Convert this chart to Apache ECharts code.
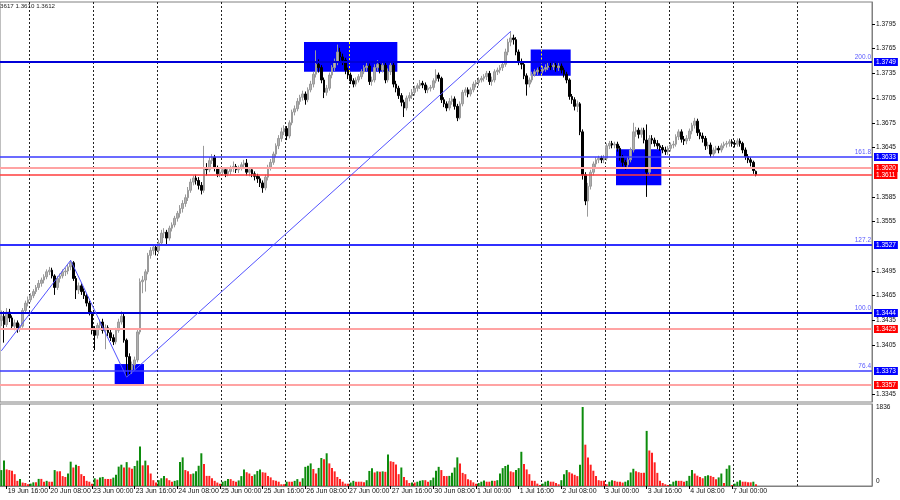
<!DOCTYPE html>
<html><head><meta charset="utf-8">
<script src="https://cdn.jsdelivr.net/npm/echarts@6/dist/echarts.min.js"></script>
<style>html,body{margin:0;padding:0;background:#fff}#c{width:900px;height:500px}</style>
</head><body><div id="c"></div>
<script>
// ---------- DATA (H1 candles: [open, close, low, high]) ----------
const dayNames = ['19 Jun','20 Jun','23 Jun','24 Jun','25 Jun','26 Jun','27 Jun','30 Jun','1 Jul','2 Jul','3 Jul','4 Jul','7 Jul'];
const firstHour = [14,0,0,0,0,0,0,0,0,0,0,0,0];

const jun19 = [[1.3435,1.3440,1.3428,1.3447],[1.3440,1.3430,1.3408,1.3446],[1.3430,1.3445,1.3427,1.3450],[1.3445,1.3438,1.3433,1.3449],[1.3438,1.3428,1.3424,1.3441],[1.3428,1.3432,1.3423,1.3436],[1.3432,1.3424,1.3420,1.3435],[1.3424,1.3428,1.3421,1.3431],[1.3428,1.3447,1.3426,1.3450],[1.3447,1.3456,1.3444,1.3459]];
const jun20 = [[1.3456,1.3460,1.3452,1.3464],[1.3460,1.3465,1.3457,1.3468],[1.3465,1.3470,1.3462,1.3473],[1.3470,1.3475,1.3467,1.3478],[1.3475,1.3480,1.3472,1.3484],[1.3480,1.3484,1.3476,1.3487],[1.3484,1.3488,1.3480,1.3491],[1.3488,1.3494,1.3485,1.3497],[1.3494,1.3496,1.3490,1.3500],[1.3496,1.3489,1.3486,1.3499],[1.3489,1.3475,1.3466,1.3491],[1.3475,1.3486,1.3472,1.3489],[1.3486,1.3489,1.3481,1.3492],[1.3489,1.3494,1.3486,1.3497],[1.3494,1.3495,1.3489,1.3499],[1.3495,1.3500,1.3491,1.3503],[1.3500,1.3505,1.3496,1.3508],[1.3505,1.3486,1.3483,1.3507],[1.3486,1.3472,1.3461,1.3489],[1.3472,1.3477,1.3467,1.3481],[1.3477,1.3470,1.3466,1.3480],[1.3470,1.3465,1.3461,1.3474],[1.3465,1.3456,1.3452,1.3468],[1.3456,1.3444,1.3441,1.3459]];
const jun23 = [[1.3444,1.3423,1.3418,1.3446],[1.3423,1.3417,1.3399,1.3428],[1.3417,1.3429,1.3413,1.3432],[1.3429,1.3433,1.3424,1.3436],[1.3433,1.3423,1.3419,1.3437],[1.3423,1.3426,1.3400,1.3430],[1.3426,1.3420,1.3416,1.3429],[1.3420,1.3414,1.3410,1.3424],[1.3414,1.3409,1.3405,1.3418],[1.3409,1.3423,1.3406,1.3426],[1.3423,1.3433,1.3420,1.3437],[1.3433,1.3440,1.3430,1.3446],[1.3440,1.3411,1.3408,1.3443],[1.3411,1.3391,1.3366,1.3413],[1.3391,1.3375,1.3369,1.3395],[1.3375,1.3381,1.3370,1.3385],[1.3381,1.3387,1.3375,1.3391],[1.3387,1.3421,1.3384,1.3424],[1.3421,1.3482,1.3418,1.3486],[1.3482,1.3484,1.3468,1.3489],[1.3484,1.3494,1.3470,1.3497],[1.3494,1.3514,1.3491,1.3517],[1.3514,1.3520,1.3510,1.3524],[1.3520,1.3524,1.3515,1.3527]];
const jun24 = [[1.3524,1.3520,1.3514,1.3527],[1.3520,1.3529,1.3516,1.3533],[1.3529,1.3541,1.3526,1.3545],[1.3541,1.3542,1.3535,1.3547],[1.3542,1.3535,1.3527,1.3545],[1.3535,1.3547,1.3532,1.3550],[1.3547,1.3551,1.3543,1.3554],[1.3551,1.3559,1.3548,1.3562],[1.3559,1.3565,1.3555,1.3568],[1.3565,1.3571,1.3560,1.3575],[1.3571,1.3577,1.3566,1.3581],[1.3577,1.3584,1.3573,1.3588],[1.3584,1.3593,1.3580,1.3597],[1.3593,1.3603,1.3590,1.3607],[1.3603,1.3608,1.3599,1.3611],[1.3608,1.3605,1.3600,1.3612],[1.3605,1.3599,1.3594,1.3609],[1.3599,1.3593,1.3588,1.3603],[1.3593,1.3620,1.3590,1.3647],[1.3620,1.3618,1.3611,1.3626],[1.3618,1.3629,1.3615,1.3633],[1.3629,1.3633,1.3625,1.3637],[1.3633,1.3620,1.3616,1.3636],[1.3620,1.3613,1.3609,1.3623]];
const jun25 = [[1.3613,1.3615,1.3609,1.3619],[1.3615,1.3618,1.3611,1.3621],[1.3618,1.3613,1.3609,1.3621],[1.3613,1.3616,1.3610,1.3619],[1.3616,1.3620,1.3612,1.3623],[1.3620,1.3622,1.3615,1.3628],[1.3622,1.3618,1.3614,1.3625],[1.3618,1.3620,1.3614,1.3623],[1.3620,1.3624,1.3617,1.3627],[1.3624,1.3626,1.3620,1.3630],[1.3626,1.3615,1.3611,1.3631],[1.3615,1.3618,1.3610,1.3621],[1.3618,1.3613,1.3609,1.3620],[1.3613,1.3610,1.3605,1.3616],[1.3610,1.3607,1.3602,1.3613],[1.3607,1.3602,1.3597,1.3610],[1.3602,1.3596,1.3590,1.3605],[1.3596,1.3609,1.3593,1.3612],[1.3609,1.3621,1.3605,1.3624],[1.3621,1.3627,1.3617,1.3631],[1.3627,1.3637,1.3624,1.3640],[1.3637,1.3647,1.3633,1.3650],[1.3647,1.3656,1.3643,1.3660],[1.3656,1.3664,1.3652,1.3669]];
const jun26 = [[1.3664,1.3668,1.3660,1.3672],[1.3668,1.3659,1.3654,1.3671],[1.3659,1.3675,1.3656,1.3678],[1.3675,1.3688,1.3672,1.3691],[1.3688,1.3692,1.3684,1.3696],[1.3692,1.3701,1.3689,1.3705],[1.3701,1.3706,1.3697,1.3709],[1.3706,1.3710,1.3702,1.3714],[1.3710,1.3703,1.3697,1.3713],[1.3703,1.3715,1.3700,1.3718],[1.3715,1.3722,1.3712,1.3726],[1.3722,1.3734,1.3718,1.3737],[1.3734,1.3746,1.3730,1.3763],[1.3746,1.3742,1.3736,1.3752],[1.3742,1.3727,1.3723,1.3745],[1.3727,1.3712,1.3705,1.3730],[1.3712,1.3717,1.3708,1.3721],[1.3717,1.3733,1.3714,1.3736],[1.3733,1.3742,1.3729,1.3745],[1.3742,1.3749,1.3738,1.3753],[1.3749,1.3761,1.3745,1.3770],[1.3761,1.3755,1.3750,1.3766],[1.3755,1.3751,1.3745,1.3759],[1.3751,1.3739,1.3734,1.3754]];
const jun27 = [[1.3739,1.3733,1.3728,1.3742],[1.3733,1.3726,1.3722,1.3736],[1.3726,1.3722,1.3718,1.3729],[1.3722,1.3727,1.3719,1.3730],[1.3727,1.3731,1.3724,1.3734],[1.3731,1.3737,1.3728,1.3740],[1.3737,1.3742,1.3734,1.3745],[1.3742,1.3744,1.3738,1.3749],[1.3744,1.3725,1.3721,1.3747],[1.3725,1.3727,1.3720,1.3731],[1.3727,1.3742,1.3724,1.3746],[1.3742,1.3746,1.3738,1.3751],[1.3746,1.3739,1.3735,1.3749],[1.3739,1.3745,1.3736,1.3750],[1.3745,1.3727,1.3723,1.3748],[1.3727,1.3737,1.3724,1.3741],[1.3737,1.3745,1.3733,1.3750],[1.3745,1.3722,1.3718,1.3748],[1.3722,1.3717,1.3712,1.3726],[1.3717,1.3708,1.3704,1.3720],[1.3708,1.3700,1.3695,1.3711],[1.3700,1.3693,1.3682,1.3703],[1.3693,1.3705,1.3690,1.3708],[1.3705,1.3708,1.3701,1.3712]];
const jun30 = [[1.3708,1.3712,1.3704,1.3716],[1.3712,1.3717,1.3708,1.3720],[1.3717,1.3720,1.3713,1.3723],[1.3720,1.3723,1.3716,1.3727],[1.3723,1.3721,1.3717,1.3726],[1.3721,1.3715,1.3711,1.3724],[1.3715,1.3717,1.3711,1.3720],[1.3717,1.3718,1.3713,1.3721],[1.3718,1.3726,1.3715,1.3729],[1.3726,1.3733,1.3723,1.3740],[1.3733,1.3729,1.3725,1.3736],[1.3729,1.3703,1.3699,1.3731],[1.3703,1.3698,1.3694,1.3706],[1.3698,1.3693,1.3689,1.3701],[1.3693,1.3701,1.3690,1.3705],[1.3701,1.3704,1.3697,1.3708],[1.3704,1.3695,1.3691,1.3707],[1.3695,1.3681,1.3677,1.3698],[1.3681,1.3698,1.3679,1.3701],[1.3698,1.3712,1.3695,1.3715],[1.3712,1.3715,1.3708,1.3718],[1.3715,1.3710,1.3706,1.3718],[1.3710,1.3715,1.3707,1.3718],[1.3715,1.3722,1.3712,1.3725]];
const jul01 = [[1.3722,1.3724,1.3718,1.3727],[1.3724,1.3727,1.3720,1.3730],[1.3727,1.3729,1.3724,1.3732],[1.3729,1.3731,1.3725,1.3734],[1.3731,1.3735,1.3727,1.3738],[1.3735,1.3725,1.3721,1.3738],[1.3725,1.3727,1.3720,1.3731],[1.3727,1.3737,1.3724,1.3740],[1.3737,1.3739,1.3733,1.3742],[1.3739,1.3742,1.3735,1.3745],[1.3742,1.3746,1.3738,1.3750],[1.3746,1.3761,1.3743,1.3765],[1.3761,1.3773,1.3757,1.3777],[1.3773,1.3778,1.3768,1.3786],[1.3778,1.3776,1.3770,1.3782],[1.3776,1.3761,1.3757,1.3779],[1.3761,1.3749,1.3745,1.3764],[1.3749,1.3746,1.3740,1.3753],[1.3746,1.3732,1.3728,1.3749],[1.3732,1.3722,1.3708,1.3735],[1.3722,1.3727,1.3718,1.3730],[1.3727,1.3734,1.3724,1.3737],[1.3734,1.3737,1.3731,1.3740],[1.3737,1.3739,1.3733,1.3742]];
const jul02 = [[1.3739,1.3738,1.3735,1.3743],[1.3738,1.3740,1.3735,1.3744],[1.3740,1.3742,1.3737,1.3746],[1.3742,1.3744,1.3739,1.3748],[1.3744,1.3743,1.3739,1.3748],[1.3743,1.3745,1.3739,1.3749],[1.3745,1.3742,1.3737,1.3750],[1.3742,1.3744,1.3738,1.3748],[1.3744,1.3739,1.3735,1.3747],[1.3739,1.3734,1.3730,1.3742],[1.3734,1.3727,1.3723,1.3737],[1.3727,1.3707,1.3703,1.3729],[1.3707,1.3703,1.3698,1.3710],[1.3703,1.3695,1.3690,1.3706],[1.3695,1.3698,1.3688,1.3702],[1.3698,1.3664,1.3660,1.3700],[1.3664,1.3612,1.3606,1.3667],[1.3612,1.3580,1.3575,1.3615],[1.3580,1.3598,1.3561,1.3602],[1.3598,1.3615,1.3594,1.3618],[1.3615,1.3625,1.3611,1.3628],[1.3625,1.3630,1.3621,1.3633],[1.3630,1.3632,1.3626,1.3635],[1.3632,1.3630,1.3626,1.3635]];
const jul03 = [[1.3630,1.3632,1.3626,1.3636],[1.3632,1.3647,1.3629,1.3650],[1.3647,1.3650,1.3643,1.3653],[1.3650,1.3648,1.3644,1.3653],[1.3648,1.3649,1.3644,1.3652],[1.3649,1.3644,1.3640,1.3652],[1.3644,1.3633,1.3629,1.3647],[1.3633,1.3627,1.3622,1.3636],[1.3627,1.3624,1.3618,1.3630],[1.3624,1.3630,1.3621,1.3633],[1.3630,1.3642,1.3627,1.3645],[1.3642,1.3664,1.3639,1.3675],[1.3664,1.3666,1.3658,1.3670],[1.3666,1.3661,1.3656,1.3669],[1.3661,1.3666,1.3657,1.3669],[1.3666,1.3654,1.3650,1.3669],[1.3654,1.3615,1.3585,1.3673],[1.3615,1.3656,1.3612,1.3660],[1.3656,1.3654,1.3649,1.3660],[1.3654,1.3650,1.3646,1.3657],[1.3650,1.3647,1.3643,1.3654],[1.3647,1.3645,1.3641,1.3650],[1.3645,1.3642,1.3638,1.3648],[1.3642,1.3640,1.3636,1.3646]];
const jul04 = [[1.3640,1.3644,1.3636,1.3647],[1.3644,1.3648,1.3640,1.3651],[1.3648,1.3649,1.3644,1.3653],[1.3649,1.3658,1.3646,1.3661],[1.3658,1.3664,1.3654,1.3667],[1.3664,1.3655,1.3651,1.3667],[1.3655,1.3653,1.3648,1.3659],[1.3653,1.3656,1.3649,1.3660],[1.3656,1.3665,1.3653,1.3668],[1.3665,1.3672,1.3661,1.3675],[1.3672,1.3677,1.3668,1.3681],[1.3677,1.3663,1.3659,1.3680],[1.3663,1.3659,1.3655,1.3667],[1.3659,1.3656,1.3651,1.3663],[1.3656,1.3647,1.3642,1.3659],[1.3647,1.3648,1.3643,1.3652],[1.3648,1.3637,1.3633,1.3651],[1.3637,1.3642,1.3634,1.3645],[1.3642,1.3644,1.3638,1.3647],[1.3644,1.3642,1.3638,1.3647],[1.3642,1.3647,1.3639,1.3650],[1.3647,1.3649,1.3644,1.3652],[1.3649,1.3650,1.3645,1.3653],[1.3650,1.3652,1.3646,1.3655]];
const jul07 = [[1.3652,1.3650,1.3646,1.3655],[1.3650,1.3649,1.3645,1.3654],[1.3649,1.3653,1.3646,1.3656],[1.3653,1.3650,1.3646,1.3656],[1.3650,1.3642,1.3638,1.3652],[1.3642,1.3634,1.3630,1.3645],[1.3634,1.3630,1.3626,1.3637],[1.3630,1.3627,1.3622,1.3633],[1.3627,1.3617,1.3613,1.3629],[1.3616,1.3612,1.3610,1.3617]];

// tick volumes per hour
const vol19 = [370,590,385,370,355,275,120,165,80,70];
const vol20 = [40,55,85,85,165,165,100,120,100,100,370,340,340,230,210,290,565,430,495,465,275,230,120,100];
const vol23 = [55,180,150,195,210,165,165,165,195,260,450,495,430,555,430,400,465,590,920,480,590,480,290,135];
const vol24 = [80,135,180,235,180,135,100,120,135,555,665,370,340,275,290,340,470,760,510,235,235,180,120,80];
const vol25 = [55,100,120,160,160,120,100,130,230,385,320,290,230,270,350,385,320,310,235,200,135,120,100,40];
const vol26 = [40,100,100,100,120,160,100,180,445,470,525,395,290,420,650,620,760,525,420,340,210,165,100,55];
const vol27 = [55,80,120,100,100,100,85,135,350,415,315,340,330,340,330,730,575,560,500,275,430,210,135,70];
const vol30 = [80,80,100,120,135,135,100,135,195,355,445,370,230,230,235,305,430,665,525,305,275,155,135,85];
const vol01 = [55,70,100,130,100,100,120,120,135,290,415,465,495,340,320,370,415,795,510,385,275,120,120,55];
const vol02 = [25,55,100,120,100,100,70,40,135,275,370,320,290,260,230,495,1836,960,665,495,355,230,135,120];
const vol03 = [120,40,100,135,120,100,100,80,100,135,315,400,340,320,305,305,1280,825,775,550,305,120,70,40];
const vol04 = [25,40,100,120,120,120,100,120,235,370,290,240,210,180,230,250,235,210,155,200,290,70,400,480];
const vol07 = [25,55,100,135,100,100,85,85,100,40];

const candleDays = [jun19,jun20,jun23,jun24,jun25,jun26,jun27,jun30,jul01,jul02,jul03,jul04,jul07];
const volumeDays = [vol19,vol20,vol23,vol24,vol25,vol26,vol27,vol30,vol01,vol02,vol03,vol04,vol07];

// price-axis tick labels & volume scale labels
const priceTicks = [1.3345,1.3405,1.3435,1.3465,1.3495,1.3555,1.3585,1.3645,1.3675,1.3705,1.3735,1.3765,1.3795];
const volumeTicks = [0,1836];

// fibonacci levels (blue) and horizontal levels (red)
const fibPrices = [1.3749,1.3633,1.3527,1.3444,1.3373];
const fibNames  = ['200.0','161.8','127.2','100.0','76.4'];
const redPrices = [1.3620,1.3611,1.3425,1.3357];

// zigzag vertices [barIndex, price]
const zigzag = [[0,1.3398],[26,1.3508],[47,1.3366],[191,1.3786]];
// rectangles [firstBar, lastBar, topPrice, bottomPrice]
const boxes = [[114,148,1.3773,1.3737],[199,213,1.3764,1.3732],[231,247,1.3643,1.3599],[43,53,1.3382,1.3357]];

const headerText = '3617 1.3610 1.3612';

// ---------- BUILD ----------
const categories = [], candles = [], volumes = [];
dayNames.forEach((d, k) => {
  candleDays[k].forEach((c, j) => {
    const h = firstHour[k] + j;
    categories.push(d + ' ' + String(h).padStart(2, '0') + ':00');
    candles.push(c);
    volumes.push(volumeDays[k][j]);
  });
});
const shiftBars = 43;
for (let j = 0; j < shiftBars; j++) categories.push('_' + j);

const FONT = 'Liberation Sans, Arial, sans-serif';
const GRID_FIRST = 11, GRID_STEP = 24, GRID_LAST = 299;
const gridLineFn = (idx) => idx >= GRID_FIRST && (idx - GRID_FIRST) % GRID_STEP === 0 && idx <= GRID_LAST;
const labelFn = (idx) => idx >= 2 && (idx - 2) % 16 === 0 && idx <= 274;
const splitStyle = { show: true, interval: gridLineFn, lineStyle: { color: '#222', width: 1, type: [2, 2] } };

// level rows: [price, kind(0 = fib, 1 = red), index within kind]
const levelRows = [];
fibPrices.forEach((p, k) => levelRows.push([p, 0, k]));
redPrices.forEach((p, k) => levelRows.push([p, 1, k]));
const fibStyle = [
  { color: '#0000d8', width: 2 }, { color: '#3a3aff', width: 1.3 }, { color: '#3030ff', width: 2 },
  { color: '#0000d8', width: 2 }, { color: '#3a3aff', width: 1.3 }
];
const redStyle = [
  { color: '#ffa3a3', width: 2 }, { color: '#ff3c3c', width: 1.5 }, { color: '#ffa3a3', width: 2 }, { color: '#ffa3a3', width: 2 }
];

const chart = echarts.init(document.getElementById('c'), null, { renderer: 'canvas' });
chart.setOption({
  animation: false,
  backgroundColor: '#fff',
  graphic: [{ type: 'text', left: 0, top: 3, style: { text: headerText, font: '6.2px ' + FONT, fill: '#222' } }],
  grid: [
    { left: -1, top: 2, width: 873, height: 400, show: true, borderColor: '#808080', borderWidth: 1, backgroundColor: 'transparent' },
    { left: -1, top: 404, width: 873, height: 82, show: true, borderColor: '#808080', borderWidth: 1, backgroundColor: 'transparent' }
  ],
  xAxis: [
    { type: 'category', gridIndex: 0, data: categories, boundaryGap: true,
      axisLine: { show: false }, axisTick: { show: false }, axisLabel: { show: false }, splitLine: splitStyle },
    { type: 'category', gridIndex: 1, data: categories, boundaryGap: true,
      axisLine: { show: true, lineStyle: { color: '#808080' } },
      axisTick: { show: true, interval: labelFn, alignWithLabel: true, length: 3, lineStyle: { color: '#000' } },
      axisLabel: { show: true, interval: labelFn, align: 'left', padding: [0, 0, 0, 1], margin: 2,
        fontSize: 7, fontFamily: FONT, color: '#111' },
      splitLine: splitStyle }
  ],
  yAxis: [
    { type: 'value', gridIndex: 0, position: 'right', min: 1.33359, max: 1.38217,
      axisLine: { show: true, lineStyle: { color: '#808080' } },
      axisTick: { show: true, customValues: priceTicks, length: 3, lineStyle: { color: '#000' } },
      axisLabel: { show: true, customValues: priceTicks, margin: 4, fontSize: 6.5, fontFamily: FONT, color: '#111',
        formatter: (v) => v.toFixed(4) },
      splitLine: { show: false } },
    { type: 'value', gridIndex: 1, position: 'right', min: 0, max: 1905,
      axisLine: { show: true, lineStyle: { color: '#808080' } },
      axisTick: { show: false },
      axisLabel: { show: true, customValues: volumeTicks, margin: 4, fontSize: 6.5, fontFamily: FONT, color: '#111',
        formatter: (v) => v === 0 ? '{z|0}' : '{t|' + v + '}',
        rich: { z: { padding: [0, 0, 10, 0], fontSize: 6.5, fontFamily: FONT, color: '#111' }, t: { fontSize: 6.5, fontFamily: FONT, color: '#111' } } },
      splitLine: { show: false } }
  ],
  series: [
    { type: 'custom', xAxisIndex: 0, yAxisIndex: 0, z: 1, silent: true,
      data: boxes, encode: { x: [0, 1], y: [2, 3] },
      renderItem: (params, api) => {
        const s = api.value(0), e = api.value(1), top = api.value(2), bot = api.value(3);
        const bw = api.size([1, 0])[0];
        const p1 = api.coord([s, top]), p2 = api.coord([e, bot]);
        const x0 = p1[0] - bw / 2, x1 = p2[0] + bw / 2;
        const children = [{ type: 'rect', shape: { x: x0, y: p1[1], width: x1 - x0, height: p2[1] - p1[1] }, style: { fill: '#0000ff' } }];
        for (let g = GRID_FIRST; g <= GRID_LAST; g += GRID_STEP) {
          const gx = Math.round(api.coord([g, top])[0] - bw / 2) + 0.5;
          if (gx > x0 && gx < x1) children.push({ type: 'line', shape: { x1: gx, y1: p1[1], x2: gx, y2: p2[1] },
            style: { stroke: '#ffff00', lineWidth: 1, lineDash: [2, 2] } });
        }
        return { type: 'group', children };
      } },
    { type: 'candlestick', xAxisIndex: 0, yAxisIndex: 0, z: 2, data: candles, barWidth: 2,
      itemStyle: { color: '#b0b0b0', color0: '#000', borderColor: '#9a9a9a', borderColor0: '#000', borderWidth: 1 },
      silent: true },
    { type: 'custom', xAxisIndex: 0, yAxisIndex: 0, z: 4, silent: true, clip: false,
      data: levelRows, encode: { y: 0 },
      renderItem: (params, api) => {
        const price = api.value(0), kind = api.value(1), k = api.value(2);
        const cs = params.coordSys;
        const st = kind === 0 ? fibStyle[k] : redStyle[k];
        const y = Math.round(api.coord([0, price])[1]);
        const xr = cs.x + cs.width;
        const children = [
          { type: 'line', shape: { x1: cs.x, y1: y, x2: xr, y2: y }, style: { stroke: st.color, lineWidth: st.width } },
          { type: 'text', x: xr + 2, y: y, style: { text: price.toFixed(4), fill: '#fff', font: '6.5px ' + FONT,
              align: 'left', verticalAlign: 'middle', backgroundColor: kind === 0 ? '#0000ff' : '#ff0000', padding: [1, 2, 0, 2], lineHeight: 7 } }
        ];
        if (kind === 0) children.push({ type: 'text', x: xr - 1, y: y - 1, style: { text: fibNames[k], fill: '#5a5aff',
          font: '6.5px ' + FONT, align: 'right', verticalAlign: 'bottom' } });
        return { type: 'group', children };
      } },
    { type: 'line', xAxisIndex: 0, yAxisIndex: 0, z: 5, data: zigzag, symbol: 'none', silent: true,
      lineStyle: { color: '#5252ff', width: 1 } },
    { type: 'bar', xAxisIndex: 1, yAxisIndex: 1, data: volumes, barWidth: 2, silent: true,
      itemStyle: { color: (p) => (p.dataIndex === 0 || volumes[p.dataIndex] > volumes[p.dataIndex - 1]) ? '#0c8c0c' : '#ff2020' } }
  ]
});
</script></body></html>
